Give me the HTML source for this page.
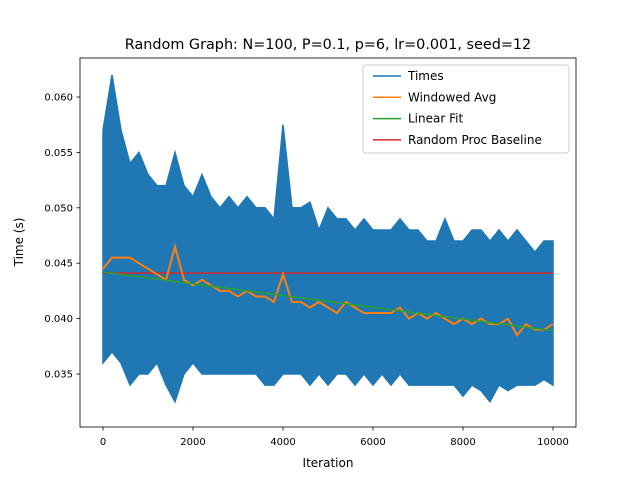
<!DOCTYPE html>
<html><head><meta charset="utf-8"><style>
body{margin:0;background:#fff}
svg{font-family:"DejaVu Sans","Liberation Sans",sans-serif}
</style></head><body>
<svg id="chart" width="640" height="480" xmlns="http://www.w3.org/2000/svg">
<rect width="640" height="480" fill="#fff"/>
<text x="328" y="49" font-size="14.4" text-anchor="middle">Random Graph: N=100, P=0.1, p=6, lr=0.001, seed=12</text>
<g id="plot"></g>
<rect x="80" y="58" width="496" height="369" fill="none" stroke="#000" stroke-width="0.8"/>
<text x="328" y="467" font-size="12" text-anchor="middle">Iteration</text>
<text transform="translate(23,242) rotate(-90)" font-size="12" text-anchor="middle">Time (s)</text>
<g id="legend">
<rect x="363" y="65" width="206" height="88" rx="3" fill="#fff" fill-opacity="0.8" stroke="#ccc"/>
</g>
</svg>
<script>
const iterations=[0,200,400,600,800,1000,1200,1400,1600,1800,2000,2200,2400,2600,2800,3000,3200,3400,3600,3800,4000,4200,4400,4600,4800,5000,5200,5400,5600,5800,6000,6200,6400,6600,6800,7000,7200,7400,7600,7800,8000,8200,8400,8600,8800,9000,9200,9400,9600,9800,10000];
const timesUpper=[0.057,0.062,0.057,0.054,0.055,0.053,0.052,0.052,0.055,0.052,0.051,0.053,0.051,0.050,0.051,0.050,0.051,0.050,0.050,0.049,0.0575,0.050,0.050,0.0505,0.048,0.050,0.049,0.049,0.048,0.049,0.048,0.048,0.048,0.049,0.048,0.048,0.047,0.047,0.049,0.047,0.047,0.048,0.048,0.047,0.048,0.047,0.048,0.047,0.046,0.047,0.047];
const timesLower=[0.036,0.037,0.036,0.034,0.035,0.035,0.036,0.034,0.0325,0.035,0.036,0.035,0.035,0.035,0.035,0.035,0.035,0.035,0.034,0.034,0.035,0.035,0.035,0.034,0.035,0.034,0.035,0.035,0.034,0.035,0.034,0.035,0.034,0.035,0.034,0.034,0.034,0.034,0.034,0.034,0.033,0.034,0.0335,0.0325,0.034,0.0335,0.034,0.034,0.034,0.0345,0.034];
const windowedAvg=[0.0445,0.0455,0.0455,0.0455,0.045,0.0445,0.044,0.0435,0.0465,0.0435,0.043,0.0435,0.043,0.0425,0.0425,0.042,0.0425,0.042,0.042,0.0415,0.044,0.0415,0.0415,0.041,0.0415,0.041,0.0405,0.0415,0.041,0.0405,0.0405,0.0405,0.0405,0.041,0.040,0.0405,0.040,0.0405,0.040,0.0395,0.040,0.0395,0.040,0.0395,0.0395,0.040,0.0385,0.0395,0.039,0.039,0.0395];
const fitStart=[0,0.0442];
const fitEnd=[10000,0.0389];
const baseline=0.0441;
const xTicks=[0,2000,4000,6000,8000,10000];
const yTicks=[0.035,0.040,0.045,0.050,0.055,0.060];
const yTickLabels=["0.035","0.040","0.045","0.050","0.055","0.060"];

const X=v=>103+v*0.045;
const Y=v=>374-(v-0.035)*11080;
const NS="http://www.w3.org/2000/svg";
const plot=document.getElementById('plot');
const svg=document.getElementById('chart');
function mk(t,a,p){const e=document.createElementNS(NS,t);for(const k in a)e.setAttribute(k,a[k]);(p||plot).appendChild(e);return e;}

let pts=iterations.map((x,i)=>X(x)+','+Y(timesUpper[i]));
for(let i=iterations.length-1;i>=0;i--)pts.push(X(iterations[i])+','+Y(timesLower[i]));
const band=mk('polygon',{points:pts.join(' '),fill:'#1f77b4',stroke:'#1f77b4','stroke-width':1.5});



const bl=mk('line',{x1:X(0),x2:X(10000),y1:Y(baseline),y2:Y(baseline),stroke:'#d62728','stroke-width':1.5});



const wa=mk('polyline',{points:iterations.map((x,i)=>X(x)+','+Y(windowedAvg[i])).join(' '),fill:'none',stroke:'#ff7f0e','stroke-width':2});



const lf=mk('line',{x1:X(fitStart[0]),y1:Y(fitStart[1]),x2:X(fitEnd[0]),y2:Y(fitEnd[1]),stroke:'#2ca02c','stroke-width':1.5});



xTicks.forEach(t=>{
  const l=mk('line',{x1:X(t),x2:X(t),y1:427,y2:430.5,stroke:'#000','stroke-width':0.8},svg);
  
  
  const tx=mk('text',{x:X(t),y:445,'font-size':10,'text-anchor':'middle'},svg);
  tx.textContent=String(t);
  
  
});
yTicks.forEach((t,i)=>{
  const l=mk('line',{x1:76.5,x2:80,y1:Y(t),y2:Y(t),stroke:'#000','stroke-width':0.8},svg);
  
  
  const tx=mk('text',{x:73,y:Y(t)+3.5,'font-size':10,'text-anchor':'end'},svg);
  tx.textContent=yTickLabels[i];
  
  
});

const legend=document.getElementById('legend');
[["Times","#1f77b4"],["Windowed Avg","#ff7f0e"],["Linear Fit","#2ca02c"],["Random Proc Baseline","#d62728"]].forEach((e,i)=>{
  const y=76+i*21.3;
  const l=mk('line',{x1:373,x2:401,y1:y,y2:y,stroke:e[1],'stroke-width':1.5},legend);
  
  
  const t=mk('text',{x:408,y:y+4,'font-size':12},legend);
  t.textContent=e[0];
  
  
});
</script>
</body></html>
